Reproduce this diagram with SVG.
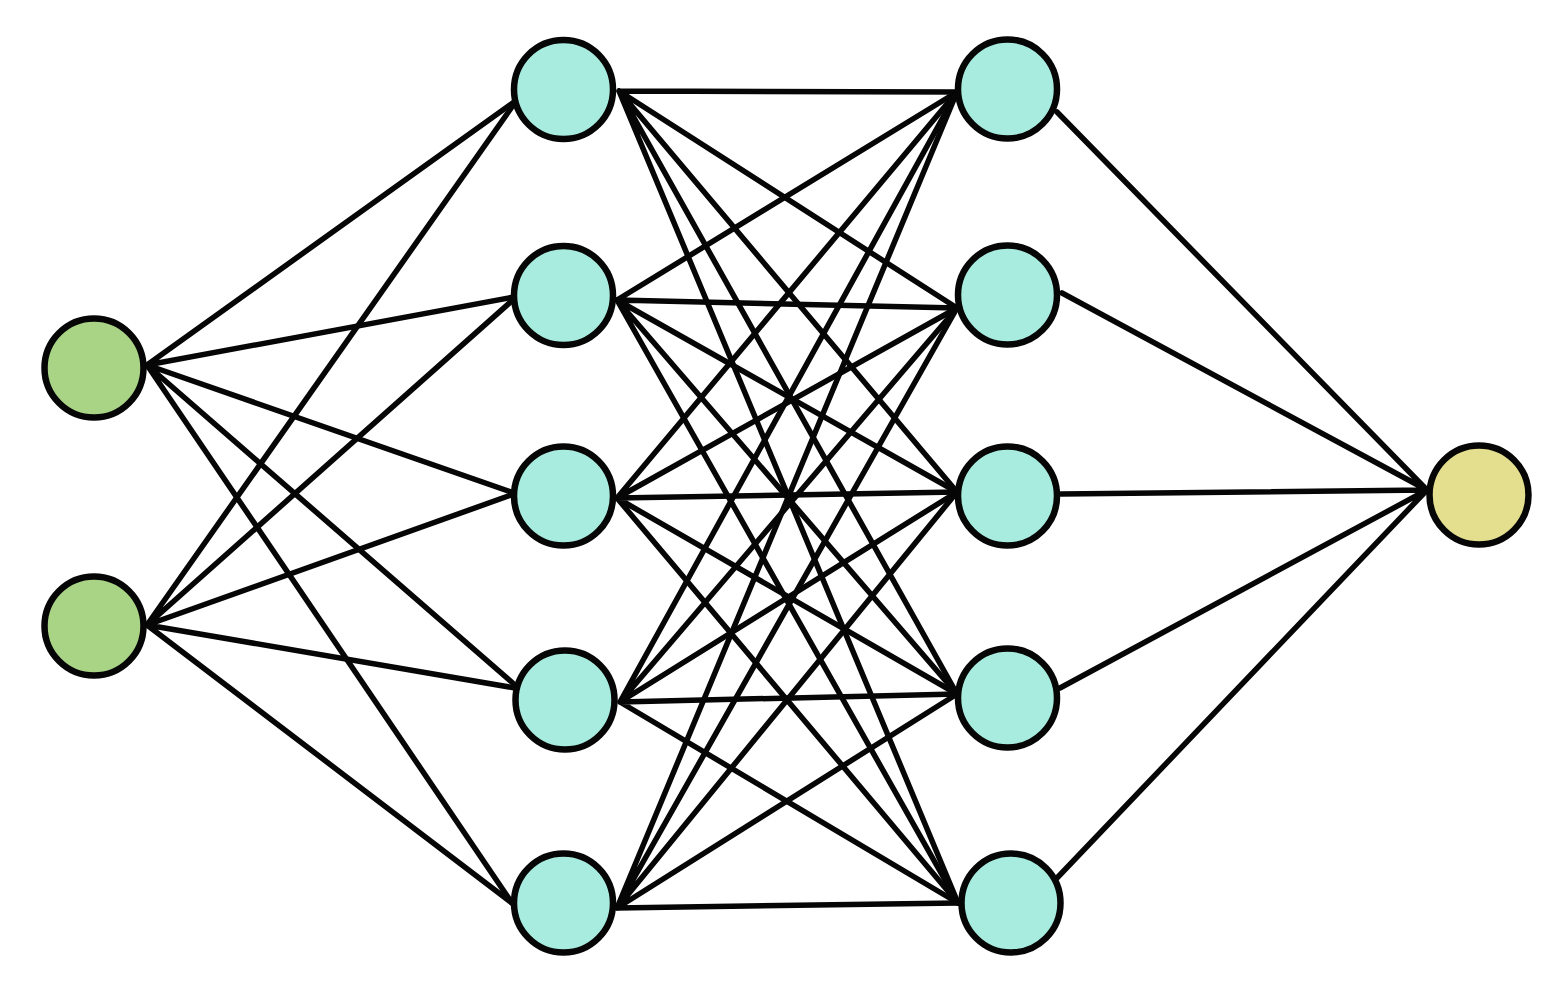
<svg xmlns="http://www.w3.org/2000/svg" width="1559" height="992" viewBox="0 0 1559 992">
<style>
.e{stroke:#060606;stroke-width:5.5;fill:none;stroke-linecap:round}
.n{stroke:#060606;stroke-width:6.5}
.in{fill:#a9d486}
.hid{fill:#a8ecdf}
.out{fill:#e3df8f}
</style>
<rect width="1559" height="992" fill="#ffffff"/>
<g id="connectors" class="e">
<path d="M147 365L514 102M147 365L514 297M147 365L514 493M147 365L515 685M147 365L512 903"/>
<path d="M147 625L514 104M147 625L514 299M147 625L514 494M147 625L515 688M147 625L512 903"/>
<path d="M619 91L957 92M619 91L957 308M619 91L957 492M619 91L957 694M619 91L958 903"/>
<path d="M617 300L957 92M617 300L957 308M617 300L957 492M617 300L957 694M617 300L958 903"/>
<path d="M617 498L957 92M617 498L957 308M617 498L957 492M617 498L957 694M617 498L958 903"/>
<path d="M620 702L957 92M620 702L957 308M620 702L957 492M620 702L957 694M620 702L958 903"/>
<path d="M617 908L957 92M617 908L957 308M617 908L957 492M617 908L957 694M617 908L958 903"/>
<path d="M1057 112L1427 490M1062 293L1427 490M1061 494L1427 490M1060 688L1427 490M1057 878L1427 490"/>
</g>
<g id="in1"><circle class="n in" cx="94" cy="368" r="49.5"/></g>
<g id="in2"><circle class="n in" cx="94" cy="626" r="49.5"/></g>
<g id="h1a"><circle class="n hid" cx="563.5" cy="89.5" r="49.5"/></g>
<g id="h1b"><circle class="n hid" cx="563.5" cy="295.5" r="49.5"/></g>
<g id="h1c"><circle class="n hid" cx="563.5" cy="496" r="49.5"/></g>
<g id="h1d"><circle class="n hid" cx="565" cy="700" r="49.5"/></g>
<g id="h1e"><circle class="n hid" cx="563.5" cy="903" r="49.5"/></g>
<g id="h2a"><circle class="n hid" cx="1007.5" cy="89" r="49.5"/></g>
<g id="h2b"><circle class="n hid" cx="1007.5" cy="295" r="49.5"/></g>
<g id="h2c"><circle class="n hid" cx="1007.5" cy="496" r="49.5"/></g>
<g id="h2d"><circle class="n hid" cx="1007.5" cy="698" r="49.5"/></g>
<g id="h2e"><circle class="n hid" cx="1011" cy="903" r="49.5"/></g>
<g id="out"><circle class="n out" cx="1479" cy="495" r="49.5"/></g>
</svg>
